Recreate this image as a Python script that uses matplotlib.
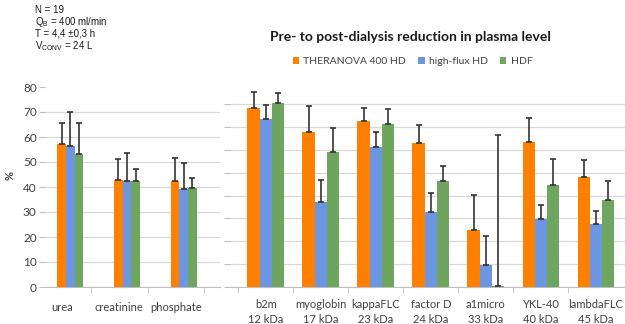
import matplotlib
matplotlib.use('Agg')
import matplotlib.pyplot as plt
import numpy as np

# ---------------- data ----------------
series_names = ['THERANOVA 400 HD', 'high-flux HD', 'HDF']

left_cats = ['urea', 'creatinine', 'phosphate']
left_theranova = [57.3, 42.8, 42.5]
left_theranova_err = [8.4, 8.3, 9.1]
left_highflux = [56.5, 42.4, 39.1]
left_highflux_err = [13.4, 11.1, 10.5]
left_hdf = [53.3, 42.5, 39.5]
left_hdf_err = [12.2, 4.6, 4.2]

right_cats = ['b2m\n12 kDa', 'myoglobin\n17 kDa', 'kappaFLC\n23 kDa', 'factor D\n24 kDa',
              'a1micro\n33 kDa', 'YKL-40\n40 kDa', 'lambdaFLC\n45 kDa']
right_theranova = [78.4, 67.7, 72.8, 63.0, 24.9, 63.6, 48.2]
right_theranova_err = [7.0, 11.6, 5.6, 7.9, 15.5, 10.5, 7.5]
right_highflux = [73.4, 37.1, 61.4, 32.9, 9.5, 29.8, 27.6]
right_highflux_err = [6.1, 9.8, 6.3, 8.1, 12.9, 6.0, 5.5]
right_hdf = [80.6, 59.1, 71.5, 46.2, 0.4, 44.7, 37.9]
right_hdf_err = [4.5, 10.4, 6.4, 6.7, 66.3, 11.3, 8.6]

y_ticks = [0, 10, 20, 30, 40, 50, 60, 70, 80]

info_lines = ['N = 19', r'$\mathregular{Q_B}$ = 400 ml/min', 'T = 4,4 ±0,3 h',
              r'$\mathregular{V_{CONV}}$ = 24 L']

# ---------------- style ----------------
colors = ['#FF8000', '#6C96E2', '#6EA65F']
grid_c = '#D9D9D9'
axis_c = '#BFBFBF'
text_c = '#404040'
plt.rcParams['font.family'] = ['Lato', 'DejaVu Sans']

W, H = 625, 324
fig = plt.figure(figsize=(W / 100, H / 100), dpi=100)


def px_axes(x0, x1, ytop, ybot):
    return fig.add_axes([x0 / W, 1 - ybot / H, (x1 - x0) / W, (ybot - ytop) / H])


err_kw = dict(ecolor='#333333', elinewidth=1.2, capsize=2.2, capthick=1.2)

# ---------------- left panel ----------------
axL = px_axes(45, 220, 84.5, 287)
xl = np.arange(len(left_cats))
bwL = 0.153
offL = 0.14
for i, (vals, errs) in enumerate([(left_theranova, left_theranova_err),
                                  (left_highflux, left_highflux_err),
                                  (left_hdf, left_hdf_err)]):
    e = np.array(errs)
    axL.bar(xl + offL + (i - 1) * bwL, vals, width=bwL, color=colors[i],
            yerr=[np.zeros_like(e), e], error_kw=err_kw, zorder=3)
axL.set_xlim(-0.31, 2.78)
axL.set_ylim(0, 81)
axL.set_yticks(y_ticks)
axL.yaxis.grid(True, color=grid_c, linewidth=0.9, zorder=0)
axL.get_ygridlines()[-1].set_visible(False)
axL.set_xticks(xl)
axL.set_xticklabels(left_cats, fontsize=8, color=text_c)
axL.set_xticks(xl + 0.5, minor=True)
axL.tick_params(axis='x', which='major', length=0, pad=11)
axL.tick_params(axis='x', which='minor', length=4, color=axis_c)
axL.tick_params(axis='y', length=4, color=axis_c, labelsize=8.5, labelcolor=text_c, pad=2)
for s in ['top', 'right', 'left']:
    axL.spines[s].set_visible(False)
axL.spines['bottom'].set_color(axis_c)
axL.set_ylabel('%', fontsize=8, fontweight='bold', color=text_c)
axL.yaxis.set_label_coords(-0.17, 0.55)

# ---------------- right panel ----------------
axR = px_axes(230, 625, 87, 286.7)
xr = np.arange(len(right_cats))
bwR = 0.222
for i, (vals, errs) in enumerate([(right_theranova, right_theranova_err),
                                  (right_highflux, right_highflux_err),
                                  (right_hdf, right_hdf_err)]):
    e = np.array(errs)
    axR.bar(xr + (i - 1) * bwR, vals, width=bwR, color=colors[i],
            yerr=[np.zeros_like(e), e], error_kw=err_kw, zorder=3,
            label=series_names[i])
axR.set_xlim(-0.65, 6.53)
axR.set_ylim(0, 87.6)
axR.set_yticks(y_ticks)
axR.set_yticklabels([])
axR.yaxis.grid(True, color=grid_c, linewidth=0.9, zorder=0)
axR.set_xticks(xr)
axR.set_xticklabels(right_cats, fontsize=8, color=text_c, linespacing=1.55)
axR.set_xticks(xr - 0.5, minor=True)
axR.tick_params(axis='x', which='major', length=0, pad=8.5)
axR.tick_params(axis='x', which='minor', length=4, color=axis_c)
axR.tick_params(axis='y', length=4, color=axis_c)
for s in ['top', 'right', 'left']:
    axR.spines[s].set_visible(False)
axR.spines['bottom'].set_color(axis_c)

# title and legend
fig.text(410.8 / W, 1 - 36.7 / H, 'Pre- to post-dialysis reduction in plasma level',
         ha='center', va='center', fontsize=10, fontweight='bold', color='#1a1a1a')
handles, labels = axR.get_legend_handles_labels()
fig.legend(handles, labels, loc='center', bbox_to_anchor=(412.5 / W, 1 - 61.7 / H),
           ncol=3, frameon=False, fontsize=7.5, labelcolor=text_c,
           handlelength=0.6, handleheight=0.6, handletextpad=0.4, columnspacing=1.2)

# info text
for k, line in enumerate(info_lines):
    fig.text(35 / W, 1 - (10 + 12 * k) / H, line, ha='left', va='center',
             fontsize=7, family=['Liberation Sans', 'DejaVu Sans'], color='#1a1a1a')

fig.savefig('out.png', dpi=100)
